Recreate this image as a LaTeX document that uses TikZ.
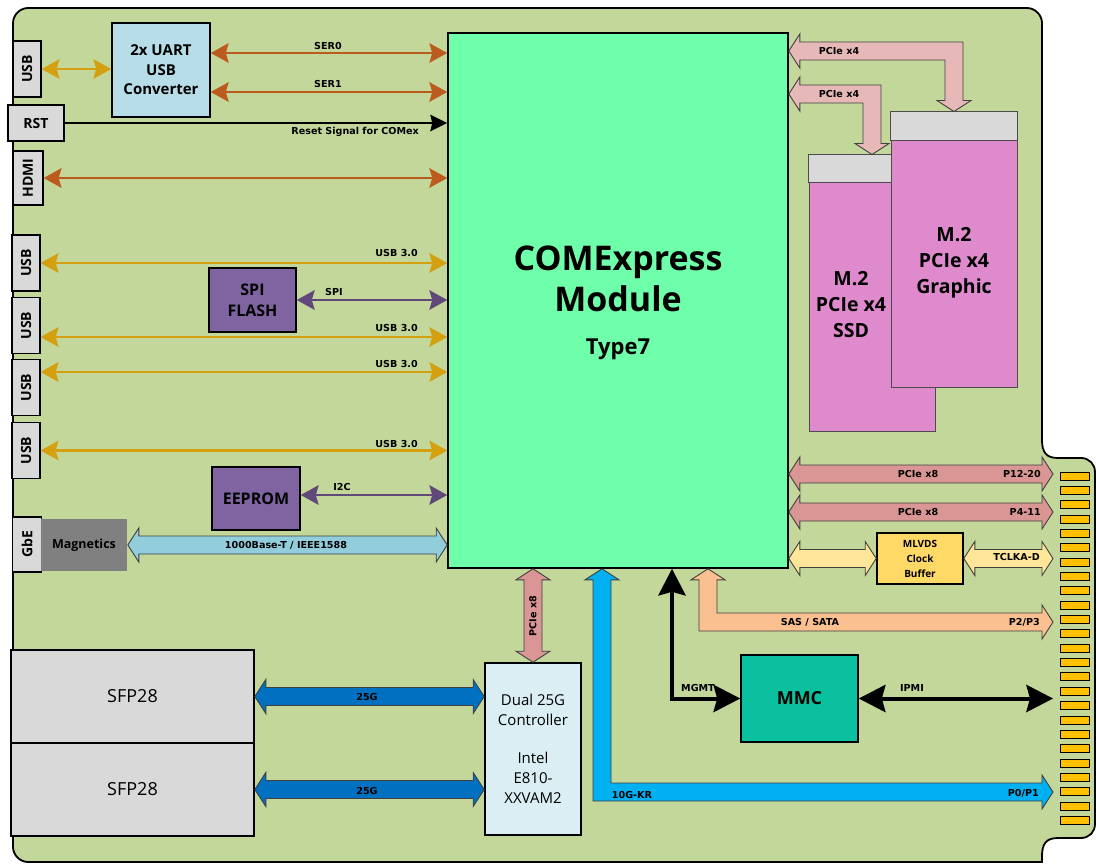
\documentclass[tikz,border=0pt]{standalone}
\usepackage{fontspec}
\setmainfont{Open Sans}
\newfontfamily\lblfont{DejaVu Sans}
\usepackage{graphicx}
\usetikzlibrary{arrows.meta, calc}
\definecolor{boardgreen}{RGB}{196,215,155}
\definecolor{comgreen}{RGB}{111,255,171}
\definecolor{conngray}{RGB}{217,217,217}
\definecolor{uartblue}{RGB}{183,222,232}
\definecolor{flashpurple}{RGB}{128,100,162}
\definecolor{linkpurple}{RGB}{96,73,122}
\definecolor{usbgold}{RGB}{212,160,16}
\definecolor{serbrown}{RGB}{187,92,30}
\definecolor{gbeblue}{RGB}{146,205,220}
\definecolor{magngray}{RGB}{128,128,128}
\definecolor{pcierose}{RGB}{230,185,184}
\definecolor{pciered}{RGB}{218,150,148}
\definecolor{clkyellow}{RGB}{255,230,153}
\definecolor{bufyellow}{RGB}{255,217,102}
\definecolor{saspeach}{RGB}{250,192,144}
\definecolor{krblue}{RGB}{0,176,240}
\definecolor{sfpblue}{RGB}{0,112,192}
\definecolor{ctrlblue}{RGB}{218,238,243}
\definecolor{mmcteal}{RGB}{10,192,158}
\definecolor{mpink}{RGB}{222,138,204}
\definecolor{padgold}{RGB}{255,192,0}

% block arrow, left tip to right tip
\newcommand{\fatlr}[3]{%
  \draw[fatline, fill=#1] (#2) -- ++(11,-17) -- ++(0,8) -- ($(#3)+(-11,-9)$)
    -- ++(0,-8) -- (#3) -- ++(-11,17) -- ++(0,-8) -- ($(#2)+(11,9)$) -- ++(0,8) -- cycle;}
% block arrow, top tip to bottom tip
\newcommand{\fattb}[3]{%
  \draw[fatline, fill=#1] (#2) -- ++(17,11) -- ++(-8,0) -- ($(#3)+(9,-11)$)
    -- ++(8,0) -- (#3) -- ++(-17,-11) -- ++(8,0) -- ($(#2)+(-9,11)$) -- ++(-8,0) -- cycle;}
% block arrow with a bend, left tip to down tip
\newcommand{\fatld}[3]{%
  \draw[fatline, fill=#1] (#2) -- ++(11,-17) -- ++(0,8) -- ($(#3|-#2)+(9,-9)$) -- ($(#3)+(9,-11)$)
    -- ++(8,0) -- (#3) -- ++(-17,-11) -- ++(8,0) -- ($(#3|-#2)+(-9,9)$) -- ($(#2)+(11,9)$) -- ++(0,8) -- cycle;}
% block arrow with a bend, up tip to right tip
\newcommand{\fatur}[3]{%
  \draw[fatline, fill=#1] (#2) -- ++(17,11) -- ++(-8,0) -- ($(#2|-#3)+(9,-9)$) -- ($(#3)+(-11,-9)$)
    -- ++(0,-8) -- (#3) -- ++(-11,17) -- ++(0,-8) -- ($(#2|-#3)+(-9,9)$) -- ($(#2)+(-9,11)$) -- ++(-8,0) -- cycle;}

\begin{document}
\begin{tikzpicture}[x=1pt, y=-1pt,
  box/.style={draw, line width=1.6pt, align=center, inner sep=0pt,
              font=\bfseries\fontsize{15}{19.5}\selectfont},
  conn/.style={draw, fill=conngray, line width=1.3pt, inner sep=0pt,
               font=\bfseries\fontsize{14}{16}\selectfont},
  mtwo/.style={draw=black!70, line width=1pt, fill=mpink, inner sep=0pt,
               minimum width=126, minimum height=276},
  mtxt/.style={align=center, font=\bfseries\fontsize{19.5}{26}\selectfont},
  lbl/.style={inner sep=0pt, font=\lblfont\bfseries\fontsize{9.6}{11}\selectfont},
  pad/.style={draw, line width=0.9pt, fill=padgold},
  fatline/.style={draw=black!75, line width=0.9pt},
  sig/.style={line width=2.6pt,
              {Stealth[length=18pt,width=20pt,inset=3pt,line width=0pt]}-{Stealth[length=18pt,width=20pt,inset=3pt,line width=0pt]}},
  goldarr/.style={sig, draw=usbgold},
  brownarr/.style={sig, draw=serbrown},
  purparr/.style={sig, draw=linkpurple},
  rstarr/.style={line width=1.8pt, -{Stealth[length=17pt,width=17pt,inset=2pt,line width=0pt]}},
  mgmtarr/.style={line width=4pt,
                  {Stealth[length=27pt,width=28pt,inset=4pt,line width=0pt]}-{Stealth[length=27pt,width=28pt,inset=4pt,line width=0pt]}}
]
\useasboundingbox (0,0) rectangle (1096,865);

% board with card edge
\draw[line width=1.8pt, fill=boardgreen] (13,30) -- (13,23) .. controls (13,15) and (20,8) .. (28,8)
  -- (1027,8) .. controls (1035,8) and (1042,15) .. (1042,23)
  -- (1042,440) .. controls (1042,452) and (1046,458) .. (1058,458)
  -- (1081,458) .. controls (1089,458) and (1095,464) .. (1095,472)
  -- (1095,824) .. controls (1095,832) and (1089,838) .. (1081,838)
  -- (1058,838) .. controls (1046,838) and (1042,844) .. (1042,856)
  -- (1042,862) -- (28,862) .. controls (20,862) and (13,855) .. (13,847) -- cycle;
\foreach \i in {0,...,24}
  \draw[pad] (1060,{472+14.35*\i}) rectangle ++(29,8);
\coordinate (edge) at (1053,0);

% COM module
\node[box, fill=comgreen, minimum width=340, minimum height=535] (com) at (618,300.5) {};
\node[align=center, font=\bfseries\fontsize{34}{41}\selectfont] (comname) at (618,279) {COMExpress\\Module};
\node[font=\bfseries\fontsize{22}{26}\selectfont] (comtype) at (618,349) {Type7};

% front connectors
\node[conn, minimum width=28, minimum height=56] (usb1) at (27,69) {\rotatebox{90}{USB}};
\node[conn, minimum width=56, minimum height=36] (rst) at (36,123) {RST};
\node[conn, minimum width=30, minimum height=54] (hdmi) at (28,178) {\rotatebox{90}{HDMI}};
\foreach \n/\y in {usb2/263, usb3/325.5, usb4/387.5, usb5/450.5}
  \node[conn, minimum width=28, minimum height=56] (\n) at (26,\y) {\rotatebox{90}{USB}};
\node[conn, minimum width=29, minimum height=55] (gbe) at (27,544.5) {\rotatebox{90}{GbE}};
\node[box, draw=none, fill=magngray, minimum width=86, minimum height=52,
      font=\bfseries\fontsize{12.5}{14}\selectfont] (mag) at (84,545) {Magnetics};

% onboard parts
\node[box, fill=uartblue, minimum width=98, minimum height=94] (uart) at (161,70) {2x UART\\USB\\Converter};
\node[box, fill=flashpurple, minimum width=87, minimum height=64,
      font=\bfseries\fontsize{16}{21}\selectfont] (spi) at (252.5,300) {SPI\\FLASH};
\node[box, fill=flashpurple, minimum width=88, minimum height=63,
      font=\bfseries\fontsize{16}{21}\selectfont] (eeprom) at (256,498.5) {EEPROM};
\node[mtwo] (ssd) at (872,293) {};
\draw[draw=black!70, line width=1pt, fill=conngray] (ssd.north west) rectangle ($(ssd.north east)+(0,28)$);
\node[mtxt] (ssdtxt) at (851,305) {M.2\\PCIe x4\\SSD};
\node[mtwo, minimum height=275] (gfx) at (954,249.5) {};
\draw[draw=black!70, line width=1pt, fill=conngray] (gfx.north west) rectangle ($(gfx.north east)+(0,29)$);
\node[mtxt] (gfxtxt) at (954,263) {M.2\\PCIe x4\\Graphic};
\node[box, fill=bufyellow, minimum width=86, minimum height=51,
      font=\bfseries\fontsize{10}{15}\selectfont] (mlvds) at (920,558.5) {MLVDS\\Clock\\Buffer};
\node[box, fill=mmcteal, minimum width=117, minimum height=87,
      font=\bfseries\fontsize{18}{22}\selectfont] (mmc) at (799.5,698.5) {MMC};
\node[box, fill=ctrlblue, minimum width=96, minimum height=172,
      font=\mdseries\fontsize{15}{20}\selectfont] (dual) at (533,749) {Dual 25G\\Controller\\[18pt]Intel\\E810-\\XXVAM2};
\node[box, fill=conngray, minimum width=243, minimum height=93,
      font=\mdseries\fontsize{18}{22}\selectfont] (sfpa) at (132.5,696.5) {SFP28};
\node[box, fill=conngray, minimum width=243, minimum height=93,
      font=\mdseries\fontsize{18}{22}\selectfont] (sfpb) at (132.5,789.5) {SFP28};

% thin links
\draw[goldarr] (usb1.east) -- (uart.west |- usb1.east);
\draw[brownarr] (uart.east |- 0,53) -- (com.west |- 0,53);
\draw[brownarr] (uart.east |- 0,92) -- (com.west |- 0,92);
\draw[rstarr] (rst.east) -- (com.west |- rst.east);
\draw[brownarr] (hdmi.east) -- (com.west |- hdmi.east);
\draw[goldarr] (usb2.east) -- (com.west |- usb2.east);
\draw[goldarr] (usb3.east |- 0,337) -- (com.west |- 0,337);
\draw[goldarr] (usb4.east |- 0,372) -- (com.west |- 0,372);
\draw[goldarr] (usb5.east) -- (com.west |- usb5.east);
\draw[purparr] (spi.east) -- (com.west |- spi.east);
\draw[purparr] (eeprom.east |- 0,495) -- (com.west |- 0,495);
\draw[mgmtarr] (com.south -| 672,0) |- (mmc.west);
\draw[mgmtarr] (mmc.east) -- (edge |- mmc.east);

% block arrows
\coordinate (gbeend) at (com.west |- mag.east);
\coordinate (x4gfx) at (com.east |- 0,51);
\coordinate (x4ssd) at (com.east |- 0,94);
\coordinate (x8a) at (com.east |- 0,474);
\coordinate (p1220) at (edge |- 0,474);
\coordinate (x8b) at (com.east |- 0,512);
\coordinate (p411) at (edge |- 0,512);
\coordinate (clkin) at (com.east |- mlvds.west);
\coordinate (tclk) at (edge |- mlvds.east);
\coordinate (sasup) at (com.south -| 708,0);
\coordinate (p23) at (edge |- 0,622);
\coordinate (krup) at (com.south -| 602,0);
\coordinate (p01) at (edge |- 0,792);
\coordinate (x8dual) at (com.south -| dual.north);
\coordinate (g25a) at (dual.west |- sfpa.east);
\coordinate (g25b) at (dual.west |- sfpb.east);
\fatlr{gbeblue}{mag.east}{gbeend}
\fatld{pcierose}{x4gfx}{gfx.north}
\fatld{pcierose}{x4ssd}{ssd.north}
\fatlr{pciered}{x8a}{p1220}
\fatlr{pciered}{x8b}{p411}
\fatlr{clkyellow}{clkin}{mlvds.west}
\fatlr{clkyellow}{mlvds.east}{tclk}
\fatur{saspeach}{sasup}{p23}
\fatur{krblue}{krup}{p01}
\fattb{pciered}{x8dual}{dual.north}
\fatlr{sfpblue}{sfpa.east}{g25a}
\fatlr{sfpblue}{sfpb.east}{g25b}

% link labels
\node[lbl] (ser0) at (328,46) {SER0};
\node[lbl] (ser1) at (328,84) {SER1};
\node[lbl, anchor=east] (rstlbl) at (419,132) {Reset Signal for COMex};
\node[lbl, anchor=east] (u3a) at (418,253) {USB 3.0};
\node[lbl, anchor=east] (u3b) at (418,328) {USB 3.0};
\node[lbl, anchor=east] (u3c) at (418,364) {USB 3.0};
\node[lbl, anchor=east] (u3d) at (418,444) {USB 3.0};
\node[lbl] (spilbl) at (334,292) {SPI};
\node[lbl] (i2clbl) at (342,487) {I2C};
\node[lbl] (gbelbl) at (286,545) {1000Base-T / IEEE1588};
\node[lbl] (x4a) at (839,51) {PCIe x4};
\node[lbl] (x4b) at (839,94) {PCIe x4};
\node[lbl] (x8albl) at (918,474) {PCIe x8};
\node[lbl, anchor=east] (p1220lbl) at (1041,474) {P12-20};
\node[lbl] (x8blbl) at (918,512) {PCIe x8};
\node[lbl, anchor=east] (p411lbl) at (1041,512) {P4-11};
\node[lbl, anchor=east] (tclklbl) at (1040,557) {TCLKA-D};
\node[lbl] (saslbl) at (810,622) {SAS / SATA};
\node[lbl, anchor=east] (p23lbl) at (1040,622) {P2/P3};
\node[lbl] (mgmtlbl) at (698,688) {MGMT};
\node[lbl] (ipmilbl) at (912,688) {IPMI};
\node[lbl] (krlbl) at (632,795) {10G-KR};
\node[lbl, anchor=east] (p01lbl) at (1039,793) {P0/P1};
\node[lbl] (g25albl) at (367,697) {25G};
\node[lbl] (g25blbl) at (367,791) {25G};
\node[lbl, rotate=90] (x8vlbl) at (533,616) {PCIe x8};
\end{tikzpicture}
\end{document}
